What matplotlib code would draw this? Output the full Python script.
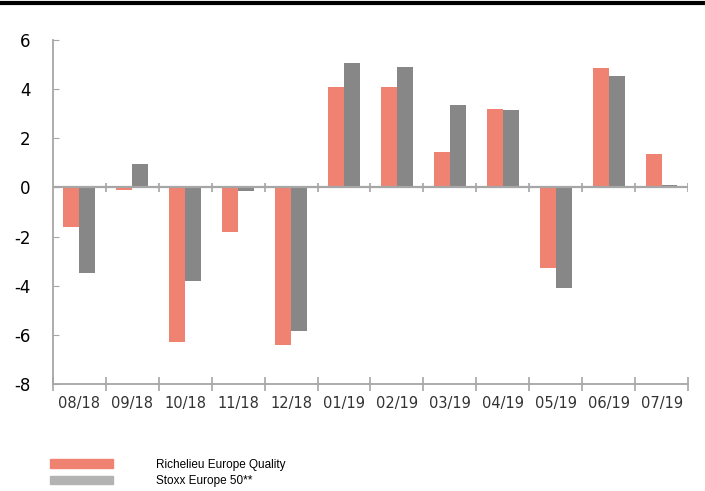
import numpy as np
import matplotlib
matplotlib.use("Agg")
import matplotlib.pyplot as plt
from matplotlib.patches import Patch

months = ["08/18", "09/18", "10/18", "11/18", "12/18", "01/19",
          "02/19", "03/19", "04/19", "05/19", "06/19", "07/19"]
richelieu = [-1.6, -0.1, -6.3, -1.8, -6.4, 4.1, 4.1, 1.45, 3.2, -3.3, 4.85, 1.35]
stoxx = [-3.5, 0.95, -3.8, -0.15, -5.85, 5.05, 4.9, 3.35, 3.15, -4.1, 4.55, 0.1]

pink = "#f08272"
grey = "#878787"
axis_col = "#a6a6a6"

fig = plt.figure(figsize=(7.05, 4.91), dpi=100)
ax = fig.add_axes([0.075, 0.218, 0.901, 0.7005])

x = np.arange(len(months))
w = 0.3
ax.bar(x - w / 2, richelieu, w, color=pink, zorder=2)
ax.bar(x + w / 2, stoxx, w, color=grey, zorder=2)

ax.set_xlim(-0.5, len(months) - 0.5)
ax.set_ylim(-8, 6)
ax.set_yticks(np.arange(-8, 7, 2))
ax.set_yticklabels([str(v) for v in range(-8, 7, 2)], fontsize=12,
                   family="DejaVu Sans")
ax.tick_params(axis="y", direction="in", length=4, color=axis_col, pad=16)

# category labels, boundary ticks on the bottom axis
ax.set_xticks(x)
ax.set_xticklabels(months, fontsize=10.5, family="DejaVu Sans", color="#333333")
ax.tick_params(axis="x", which="major", length=0, pad=9)
bounds = np.arange(-0.5, len(months), 1.0)
ax.set_xticks(bounds, minor=True)
ax.tick_params(axis="x", which="minor", direction="inout", length=10,
               color=axis_col, width=1.2)

for s in ["top", "right"]:
    ax.spines[s].set_visible(False)
for s in ["left", "bottom"]:
    ax.spines[s].set_color(axis_col)
    ax.spines[s].set_linewidth(1.3)

# zero line with its own boundary ticks
ax.axhline(0, color=axis_col, lw=1.6, zorder=3)
ax.vlines(bounds[1:], -0.2, 0.2, color=axis_col, lw=1.2, zorder=3)

# black rule across the top of the page
fig.add_artist(plt.Line2D([0, 1], [0.994, 0.994], color="black", lw=3,
                          transform=fig.transFigure))

handles = [Patch(color=pink), Patch(color="#b3b3b3")]
fig.legend(handles, ["Richelieu Europe Quality", "Stoxx Europe 50**"],
           loc="lower left", bbox_to_anchor=(0.056, -0.014), frameon=False,
           handlelength=5.3, handleheight=0.7, handletextpad=3.7,
           labelspacing=0.4, prop={"family": "Liberation Sans", "size": 8.5})

fig.savefig("out.png", dpi=100)
